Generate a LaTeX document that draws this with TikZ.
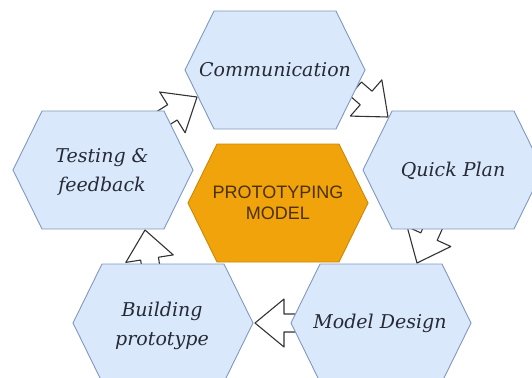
\documentclass[tikz,border=0pt]{standalone}
\usepackage{fontspec}
\setmainfont{DejaVu Serif}
\newfontfamily\coresans{Liberation Sans}
\definecolor{cellblue}{RGB}{218,232,252}
\definecolor{cellline}{RGB}{128,152,192}
\definecolor{coreorange}{RGB}{240,163,10}
\definecolor{coreline}{RGB}{205,135,5}
\definecolor{coreink}{RGB}{75,48,8}
\definecolor{cellink}{RGB}{38,42,52}
\tikzset{
  cell/.style={fill=cellblue,draw=cellline,line width=0.9pt},
  core/.style={fill=coreorange,draw=coreline,line width=0.9pt},
  celltext/.style={text=cellink,font=\fontsize{19}{29}\selectfont\itshape,align=center},
  coretext/.style={text=coreink,font=\coresans\fontsize{18}{21}\selectfont,align=center},
  flowarrow/.style={fill=white,draw=black!80,line width=1.1pt,line join=round}
}
\newcommand{\hexcell}[3]{\draw[#3,shift={(#1,#2)}] (-90,0) -- (-61,-59) -- (61,-59) -- (90,0) -- (61,59) -- (-61,59) -- cycle;}
\newcommand{\cyclearrow}[3]{\draw[flowarrow,shift={(#1,#2)},rotate=#3] (0,0) -- (-29,24) -- (-29,9) -- (-43,9) -- (-43,-9) -- (-29,-9) -- (-29,-24) -- cycle;}
\begin{document}
\begin{tikzpicture}[x=1pt,y=-1pt]
      \useasboundingbox (0,0) rectangle (532,377);
      \clip (0,0) rectangle (532,377);
      \cyclearrow{197}{97}{32}
      \cyclearrow{388}{117}{-41}
      \cyclearrow{417}{263}{-114.4}
      \cyclearrow{255}{323}{180}
      \cyclearrow{145}{230}{99}
      \hexcell{275}{70}{cell}
      \hexcell{453}{170}{cell}
      \hexcell{381}{323}{cell}
      \hexcell{163}{323}{cell}
      \hexcell{103}{170}{cell}
      \hexcell{278}{203}{core}
      \node[celltext] (comm) at (275,70) {Communication};
      \node[celltext] (plan) at (453,171) {Quick Plan};
      \node[celltext] (design) at (380,323) {Model Design};
      \node[celltext] (build) at (162,326) {Building\\prototype};
      \node[celltext] (test) at (102,172) {Testing \&\\feedback};
      \node[coretext] (core) at (278,203) {PROTOTYPING\\MODEL};
\end{tikzpicture}
\end{document}
